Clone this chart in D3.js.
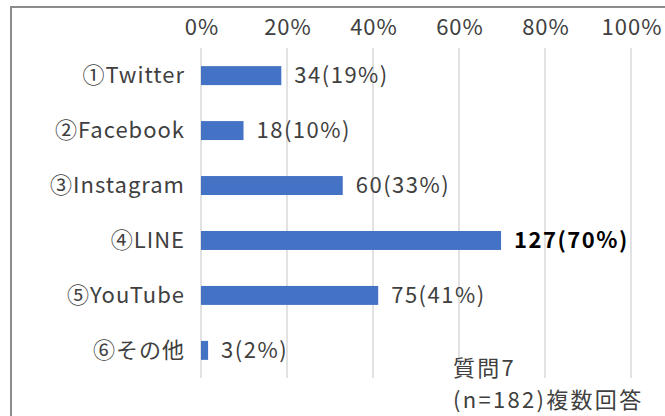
<!DOCTYPE html>
<html><head><meta charset="utf-8">
<script src="https://cdn.jsdelivr.net/npm/d3@7"></script>
<style>
html,body{margin:0;padding:0;background:#fff;}
svg{display:block;font-family:"Noto Sans CJK JP","Noto Sans",sans-serif;}
</style></head>
<body>
<svg id="chart" width="665" height="416"></svg>
<script>
const categories = ["①Twitter","②Facebook","③Instagram","④LINE","⑤YouTube","⑥その他"];
const counts = [34,18,60,127,75,3];
const percentLabels = ["19%","10%","33%","70%","41%","2%"];
const total = 182;
const tickValues = [0,0.2,0.4,0.6,0.8,1.0];
const boldIndex = [3];
const noteLines = ["質問7","(n=182)複数回答"];

const svg = d3.select("#chart");
const W = 665, H = 416;
const margin = {left:201, right:34, top:48, bottom:38};
const FF = "'Noto Sans CJK JP','Noto Sans',sans-serif";

// frame
svg.append("path").attr("d",`M11,${H} L11,7 L${W},7`).attr("fill","none")
  .attr("stroke","#8c8c8c").attr("stroke-width",2);

const x = d3.scaleLinear().domain([0,1]).range([margin.left, W-margin.right]);
const y = d3.scaleBand().domain(categories).range([margin.top, H-margin.bottom]).paddingInner(0.655).paddingOuter(0.33);

// gridlines
svg.append("g").selectAll("line").data(tickValues).join("line")
  .attr("x1",d=>x(d)).attr("x2",d=>x(d))
  .attr("y1",margin.top).attr("y2",H-margin.bottom)
  .attr("stroke","#d9d9d9").attr("stroke-width",1.5);

// top axis labels
const ax = svg.append("g").attr("transform",`translate(0,${margin.top})`)
  .call(d3.axisTop(x).tickValues(tickValues).tickFormat(d3.format(".0%")).tickSize(0).tickPadding(13));
ax.select(".domain").remove();
ax.selectAll("text").attr("font-size",22).attr("fill","#404040")
  .attr("font-family",FF).attr("letter-spacing","1px").attr("dx","0.5");

// category labels
const ay = svg.append("g").attr("transform",`translate(${margin.left},0)`)
  .call(d3.axisLeft(y).tickSize(0).tickPadding(16));
ay.select(".domain").remove();
ay.selectAll("text").attr("font-size",22).attr("fill","#404040")
  .attr("font-family",FF).attr("letter-spacing","1px").attr("dy","0.34em");

// bars
svg.append("g").selectAll("rect").data(categories).join("rect")
  .attr("x",x(0)).attr("y",d=>y(d))
  .attr("width",(d,i)=>x(counts[i]/total)-x(0))
  .attr("height",y.bandwidth())
  .attr("fill","#4472C4");

// value labels
svg.append("g").selectAll("text").data(categories).join("text")
  .attr("x",(d,i)=>x(counts[i]/total)+13)
  .attr("y",d=>y(d)+y.bandwidth()/2)
  .attr("dy","0.34em")
  .attr("font-size",22)
  .attr("letter-spacing","1.5px")
  .attr("font-weight",(d,i)=>boldIndex.includes(i)?"bold":"normal")
  .attr("fill",(d,i)=>boldIndex.includes(i)?"#000":"#404040")
  .text((d,i)=>`${counts[i]}(${percentLabels[i]})`);

// note
svg.append("g").selectAll("text").data(noteLines).join("text")
  .attr("x",453).attr("y",(d,i)=>376+i*32)
  .attr("font-size",22).attr("fill","#404040").attr("letter-spacing","2.3px")
  .text(d=>d);
</script>
</body></html>
